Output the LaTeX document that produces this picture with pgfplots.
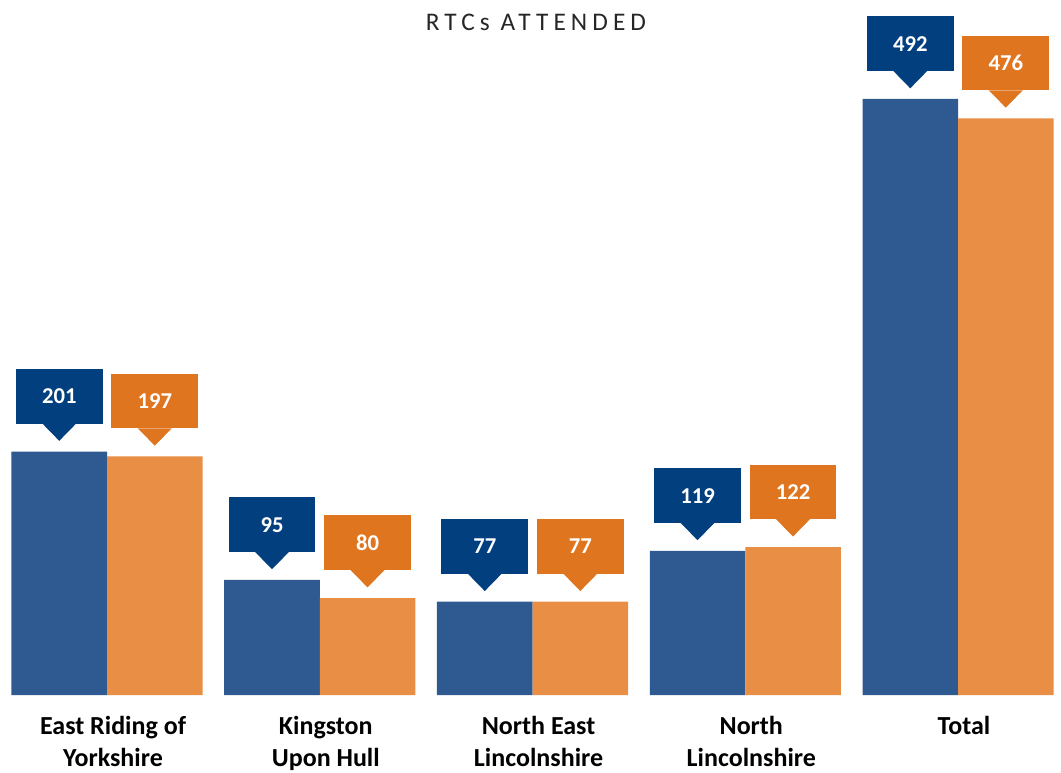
\documentclass[border=0pt]{standalone}
\usepackage{fontspec}
\setmainfont{Carlito}
\newfontfamily\titlefont[LetterSpace=20]{Carlito}
\usepackage{pgfplots}
\pgfplotsset{compat=1.18}
\definecolor{barblue}{RGB}{46,89,145}
\definecolor{barorange}{RGB}{232,142,69}
\definecolor{callblue}{RGB}{1,63,126}
\definecolor{callorange}{RGB}{224,117,32}
\tikzset{callfill/.style={fill=#1,
  append after command={\pgfextra{\fill[#1] ([xshift=-12.75pt,yshift=0.3pt]\tikzlastnode.south) -- ([xshift=12.75pt,yshift=0.3pt]\tikzlastnode.south) -- ([yshift=-12.75pt]\tikzlastnode.south) -- cycle;}}}}
\begin{document}
\begin{tikzpicture}[x=0.75pt,y=0.75pt]
\begin{axis}[
  at={(0,0)}, anchor=south west,
  scale only axis, width=795.75pt, height=579pt,
  ybar=0pt, bar width=0.449,
  xmin=-0.503, xmax=4.484,
  ymin=-63.56, ymax=573.7,
  axis line style={draw=none},
  xtick=\empty, ytick=\empty,
  clip=false,
  nodes near coords={\pgfmathprintnumber[assume math mode=true]{\pgfplotspointmeta}},
  every node near coord/.append style={
    rectangle, anchor=south,
    minimum width=65pt, minimum height=41pt, inner sep=0pt,
    text=white, font=\fontsize{17}{20}\selectfont\bfseries,
    yshift=20.75pt
  },
]
\addplot[fill=barblue, draw=none,
  every node near coord/.append style={callfill=callblue}]
  coordinates {(0,201) (1,95) (2,77) (3,119) (4,492)};
\addplot[fill=barorange, draw=none,
  every node near coord/.append style={callfill=callorange}]
  coordinates {(0,197) (1,80) (2,77) (3,122) (4,476)};
\begin{scope}[every node/.style={font=\fontsize{19.5}{24}\selectfont\bfseries, align=center, anchor=center, xshift=4.5pt, inner sep=0pt}]
\node at (axis cs:0,-40.9) {East Riding of\strut\\Yorkshire\strut};
\node at (axis cs:1,-40.9) {Kingston\strut\\Upon Hull\strut};
\node at (axis cs:2,-40.9) {North East\strut\\Lincolnshire\strut};
\node at (axis cs:3,-40.9) {North\strut\\Lincolnshire\strut};
\node at (axis cs:4,-27.7) {Total\strut};
\end{scope}
\end{axis}
\node[font=\titlefont\fontsize{19}{22}\selectfont, text=black!85] at (536,750) {RTCs ATTENDED};
\pgfresetboundingbox
\useasboundingbox (0,0) rectangle (1061,772);
\end{tikzpicture}
\end{document}
